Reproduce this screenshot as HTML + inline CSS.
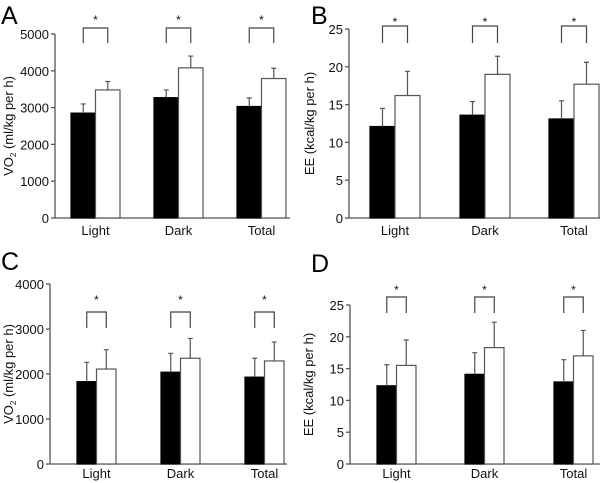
<!DOCTYPE html>
<html><head><meta charset="utf-8"><style>
body{margin:0;background:#fff;}
svg{display:block;font-family:"Liberation Sans",sans-serif;}
</style></head><body>
<svg id="fig" width="600" height="483"></svg>
<script>
const categories=["Light","Dark","Total"];
const aBlack=[2850,3270,3030], aBlackErr=[250,210,230], aWhite=[3480,4080,3790], aWhiteErr=[230,320,280];
const bBlack=[12.1,13.6,13.1], bBlackErr=[2.4,1.8,2.4], bWhite=[16.2,19.0,17.7], bWhiteErr=[3.2,2.4,2.9];
const cBlack=[1830,2040,1930], cBlackErr=[430,420,420], cWhite=[2110,2350,2290], cWhiteErr=[430,440,420];
const dBlack=[12.3,14.1,12.9], dBlackErr=[3.3,3.4,3.5], dWhite=[15.5,18.3,17.0], dWhiteErr=[4.0,4.0,4.0];
const ticksA=[0,1000,2000,3000,4000,5000], ticksB=[0,5,10,15,20,25], ticksC=[0,1000,2000,3000,4000], ticksD=[0,5,10,15,20,25];

const NS="http://www.w3.org/2000/svg";
const svg=document.getElementById('fig');
function mk(tag,attrs,parent,text){const e=document.createElementNS(NS,tag);for(const k in attrs)e.setAttribute(k,attrs[k]);if(text!==undefined)e.textContent=text;(parent||svg).appendChild(e);return e;}

function panel(p){
  const g=mk('g',{});
  
  
  const y=v=>p.y0-(v/p.max)*(p.y0-p.yTop);
  const pl=mk('text',{x:p.lx,y:p.ly,'font-size':25,fill:'#000'},g,p.id);
  
  
  const ax=mk('path',{d:`M${p.ax},${p.yTop}V${p.y0}H${p.axEnd}`,stroke:'#555',fill:'none','stroke-width':1.3},g);
  
  
  p.ticks.forEach(t=>{
    mk('line',{x1:p.ax-4,x2:p.ax,y1:y(t),y2:y(t),stroke:'#555','stroke-width':1.3},g);
    const tl=mk('text',{x:p.ax-6,y:y(t)+5,'font-size':13,'text-anchor':'end',fill:'#111'},g,t);
    
    
  });
  const midY=(p.y0+p.yTop)/2;
  const yt=mk('text',{transform:`translate(${p.ttx},${midY}) rotate(-90)`,'font-size':13,'text-anchor':'middle',fill:'#111'},g);
  
  
  if(p.vo2){yt.textContent='VO';mk('tspan',{'font-size':8,dy:3},yt,'2');mk('tspan',{dy:-3},yt,' (ml/kg per h)');}
  else yt.textContent='EE (kcal/kg per h)';
  categories.forEach((c,i)=>{
    const x0=p.bx[i], w=p.bw;
    [[p.black[i],p.blackErr[i],'#000',x0,'black'],[p.white[i],p.whiteErr[i],'#fff',x0+w,'white']].forEach(([v,e,f,x,nm])=>{
      const r=mk('rect',{x:x,y:y(v),width:w,height:p.y0-y(v),fill:f,stroke:nm==='white'?'#555':'#000','stroke-width':1.2},g);
      
      
      const cx=x+w/2;
      const eb=mk('path',{d:`M${cx},${y(v)}V${y(v+e)}M${cx-2.5},${y(v+e)}H${cx+2.5}`,stroke:'#555','stroke-width':1.2,fill:'none'},g);
      
      
    });
    const bl=x0+w/2, br=x0+1.5*w;
    const br1=mk('path',{d:`M${bl},${p.brB}V${p.brT}H${br}V${p.brB}`,stroke:'#444','stroke-width':1.2,fill:'none'},g);
    
    
    const st=mk('text',{x:(bl+br)/2,y:p.starY,'font-size':12,'text-anchor':'middle',fill:'#111'},g,'*');
    
    
    const xl=mk('text',{x:x0+w,y:p.y0+p.lblOff,'font-size':13,'text-anchor':'middle',fill:'#111'},g,c);
    
    
  });
}
panel({id:'A',lx:1,ly:24,ax:55,axEnd:290,y0:218,yTop:34,max:5000,ticks:ticksA,ttx:13,vo2:true,black:aBlack,blackErr:aBlackErr,white:aWhite,whiteErr:aWhiteErr,bx:[71,154,237],bw:24.5,brT:28,brB:43,starY:24,lblOff:17});
panel({id:'B',lx:311,ly:24,ax:349,axEnd:600,y0:218,yTop:29,max:25,ticks:ticksB,ttx:314,vo2:false,black:bBlack,blackErr:bBlackErr,white:bWhite,whiteErr:bWhiteErr,bx:[370,460,549],bw:25,brT:26,brB:43,starY:26,lblOff:17});
panel({id:'C',lx:1,ly:270,ax:50,axEnd:287,y0:464,yTop:284,max:4000,ticks:ticksC,ttx:13,vo2:true,black:cBlack,blackErr:cBlackErr,white:cWhite,whiteErr:cWhiteErr,bx:[77,161,245],bw:19.5,brT:312,brB:328,starY:304,lblOff:14});
panel({id:'D',lx:311,ly:272,ax:350,axEnd:600,y0:464,yTop:305,max:25,ticks:ticksD,ttx:313,vo2:false,black:dBlack,blackErr:dBlackErr,white:dWhite,whiteErr:dWhiteErr,bx:[377,465,554],bw:19.5,brT:297,brB:313,starY:294,lblOff:14});
</script>
</body></html>
